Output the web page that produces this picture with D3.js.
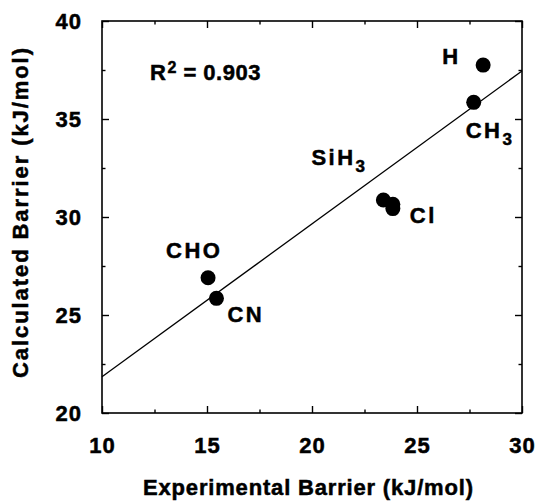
<!DOCTYPE html>
<html>
<head>
<meta charset="utf-8">
<script src="https://cdn.jsdelivr.net/npm/d3@7"></script>
<style>
  html, body { margin: 0; padding: 0; background: #fff; }
  svg { display: block; }
  text { font-family: "Liberation Sans", Arial, Helvetica, sans-serif; font-weight: bold; fill: #000; stroke: #000; stroke-width: 0.5px; }
</style>
</head>
<body>
<svg id="chart" width="535" height="501"></svg>
<script>
// ---- data ----
const pointNames = ["H", "CH3", "SiH3", "Cl", "Cl2", "CHO", "CN"];
const expBarrier = [28.15, 27.7, 23.4, 23.85, 23.85, 15.05, 15.45];
const calcBarrier = [37.75, 35.85, 30.87, 30.65, 30.43, 26.9, 25.85];
const labelNames = ["H", "CH3", "SiH3", "Cl", "CHO", "CN"];
const fitLineX = [10, 30];
const fitLineY = [21.85, 37.45];
const xMajorTicks = [10, 15, 20, 25, 30];
const xMinorTicks = [12.5, 17.5, 22.5, 27.5];
const yMajorTicks = [20, 25, 30, 35, 40];
const yMinorTicks = [22.5, 27.5, 32.5, 37.5];
const xTitle = "Experimental Barrier (kJ/mol)";
const yTitle = "Calculated Barrier (kJ/mol)";
const r2Text = ["R", "2", " = 0.903"];

// ---- layout ----
const svg = d3.select("#chart");
const L = 102, R = 522, T = 21, B = 413;
const x = d3.scaleLinear().domain([10, 30]).range([L, R]);
const y = d3.scaleLinear().domain([20, 40]).range([B, T]);
const FONT = '"Liberation Sans", Arial, Helvetica, sans-serif';

// frame
svg.append("rect").attr("x", L).attr("y", T).attr("width", R - L).attr("height", B - T)
  .attr("fill", "none").attr("stroke", "#000").attr("stroke-width", 1.6);

function styleAxis(g) {
  g.select(".domain").remove();
  g.selectAll(".tick line").attr("stroke", "#000").attr("stroke-width", 1.4);
  g.selectAll(".tick text").style("font-size", "22px").style("font-weight", "bold")
    .style("letter-spacing", "1px")
    .style("font-family", FONT).attr("fill", "#000");
}

// bottom
svg.append("g").attr("transform", `translate(0,${B})`)
  .call(d3.axisBottom(x).tickValues(xMajorTicks).tickSizeInner(-7).tickSizeOuter(0).tickPadding(24).tickFormat(d3.format("d")))
  .call(styleAxis);
svg.append("g").attr("transform", `translate(0,${B})`)
  .call(d3.axisBottom(x).tickValues(xMinorTicks).tickSizeInner(-3.5).tickSizeOuter(0).tickFormat(""))
  .call(styleAxis);
// top
svg.append("g").attr("transform", `translate(0,${T})`)
  .call(d3.axisTop(x).tickValues(xMajorTicks).tickSizeInner(-7).tickSizeOuter(0).tickFormat(""))
  .call(styleAxis);
svg.append("g").attr("transform", `translate(0,${T})`)
  .call(d3.axisTop(x).tickValues(xMinorTicks).tickSizeInner(-3.5).tickSizeOuter(0).tickFormat(""))
  .call(styleAxis);
// left
svg.append("g").attr("transform", `translate(${L},0)`)
  .call(d3.axisLeft(y).tickValues(yMajorTicks).tickSizeInner(-7).tickSizeOuter(0).tickPadding(20).tickFormat(d3.format("d")))
  .call(styleAxis);
svg.append("g").attr("transform", `translate(${L},0)`)
  .call(d3.axisLeft(y).tickValues(yMinorTicks).tickSizeInner(-3.5).tickSizeOuter(0).tickFormat(""))
  .call(styleAxis);
// right
svg.append("g").attr("transform", `translate(${R},0)`)
  .call(d3.axisRight(y).tickValues(yMajorTicks).tickSizeInner(-7).tickSizeOuter(0).tickFormat(""))
  .call(styleAxis);
svg.append("g").attr("transform", `translate(${R},0)`)
  .call(d3.axisRight(y).tickValues(yMinorTicks).tickSizeInner(-3.5).tickSizeOuter(0).tickFormat(""))
  .call(styleAxis);

// fit line
svg.append("line")
  .attr("x1", x(fitLineX[0])).attr("y1", y(fitLineY[0]))
  .attr("x2", x(fitLineX[1])).attr("y2", y(fitLineY[1]))
  .attr("stroke", "#000").attr("stroke-width", 1.3);

// points
const pts = pointNames.map((n, i) => ({ name: n, ex: expBarrier[i], calc: calcBarrier[i] }));
svg.append("g").selectAll("circle").data(pts).join("circle")
  .attr("cx", d => x(d.ex)).attr("cy", d => y(d.calc)).attr("r", 7.5).attr("fill", "#000");

// labels (offset relative to the point)
const labelOffsets = {
  "H":    [-41, -1],
  "CH3":  [-8, 36],
  "SiH3": [-72, -35],
  "Cl":   [17, 19],
  "CHO":  [-42, -20],
  "CN":   [11, 24]
};
const lg = svg.append("g");
labelNames.forEach(name => {
  const p = pts.find(d => d.name === name);
  const [dx, dy] = labelOffsets[name];
  const t = lg.append("text").attr("x", x(p.ex) + dx).attr("y", y(p.calc) + dy)
    .style("font-size", "22px").style("letter-spacing", "2.5px");
  const m = name.match(/^([A-Za-z]+)(\d*)$/);
  t.append("tspan").text(m[1]);
  if (m[2]) {
    t.append("tspan").attr("dy", 7).style("font-size", "17px").text(m[2]);
  }
});

// R^2
const rt = svg.append("text").attr("x", 150).attr("y", 80).style("font-size", "22px").style("letter-spacing", "0.5px");
rt.append("tspan").text(r2Text[0]);
rt.append("tspan").attr("dy", -7).attr("dx", 1).style("font-size", "16px").text(r2Text[1]);
rt.append("tspan").attr("dy", 7).text(r2Text[2]);

// axis titles
svg.append("text").attr("x", 308).attr("y", 495).attr("text-anchor", "middle")
  .style("font-size", "22px").attr("textLength", 330).attr("lengthAdjust", "spacing").text(xTitle);
svg.append("text").attr("transform", "translate(28,213) rotate(-90)").attr("text-anchor", "middle")
  .style("font-size", "22px").attr("textLength", 330).attr("lengthAdjust", "spacing").text(yTitle);
</script>
</body>
</html>
